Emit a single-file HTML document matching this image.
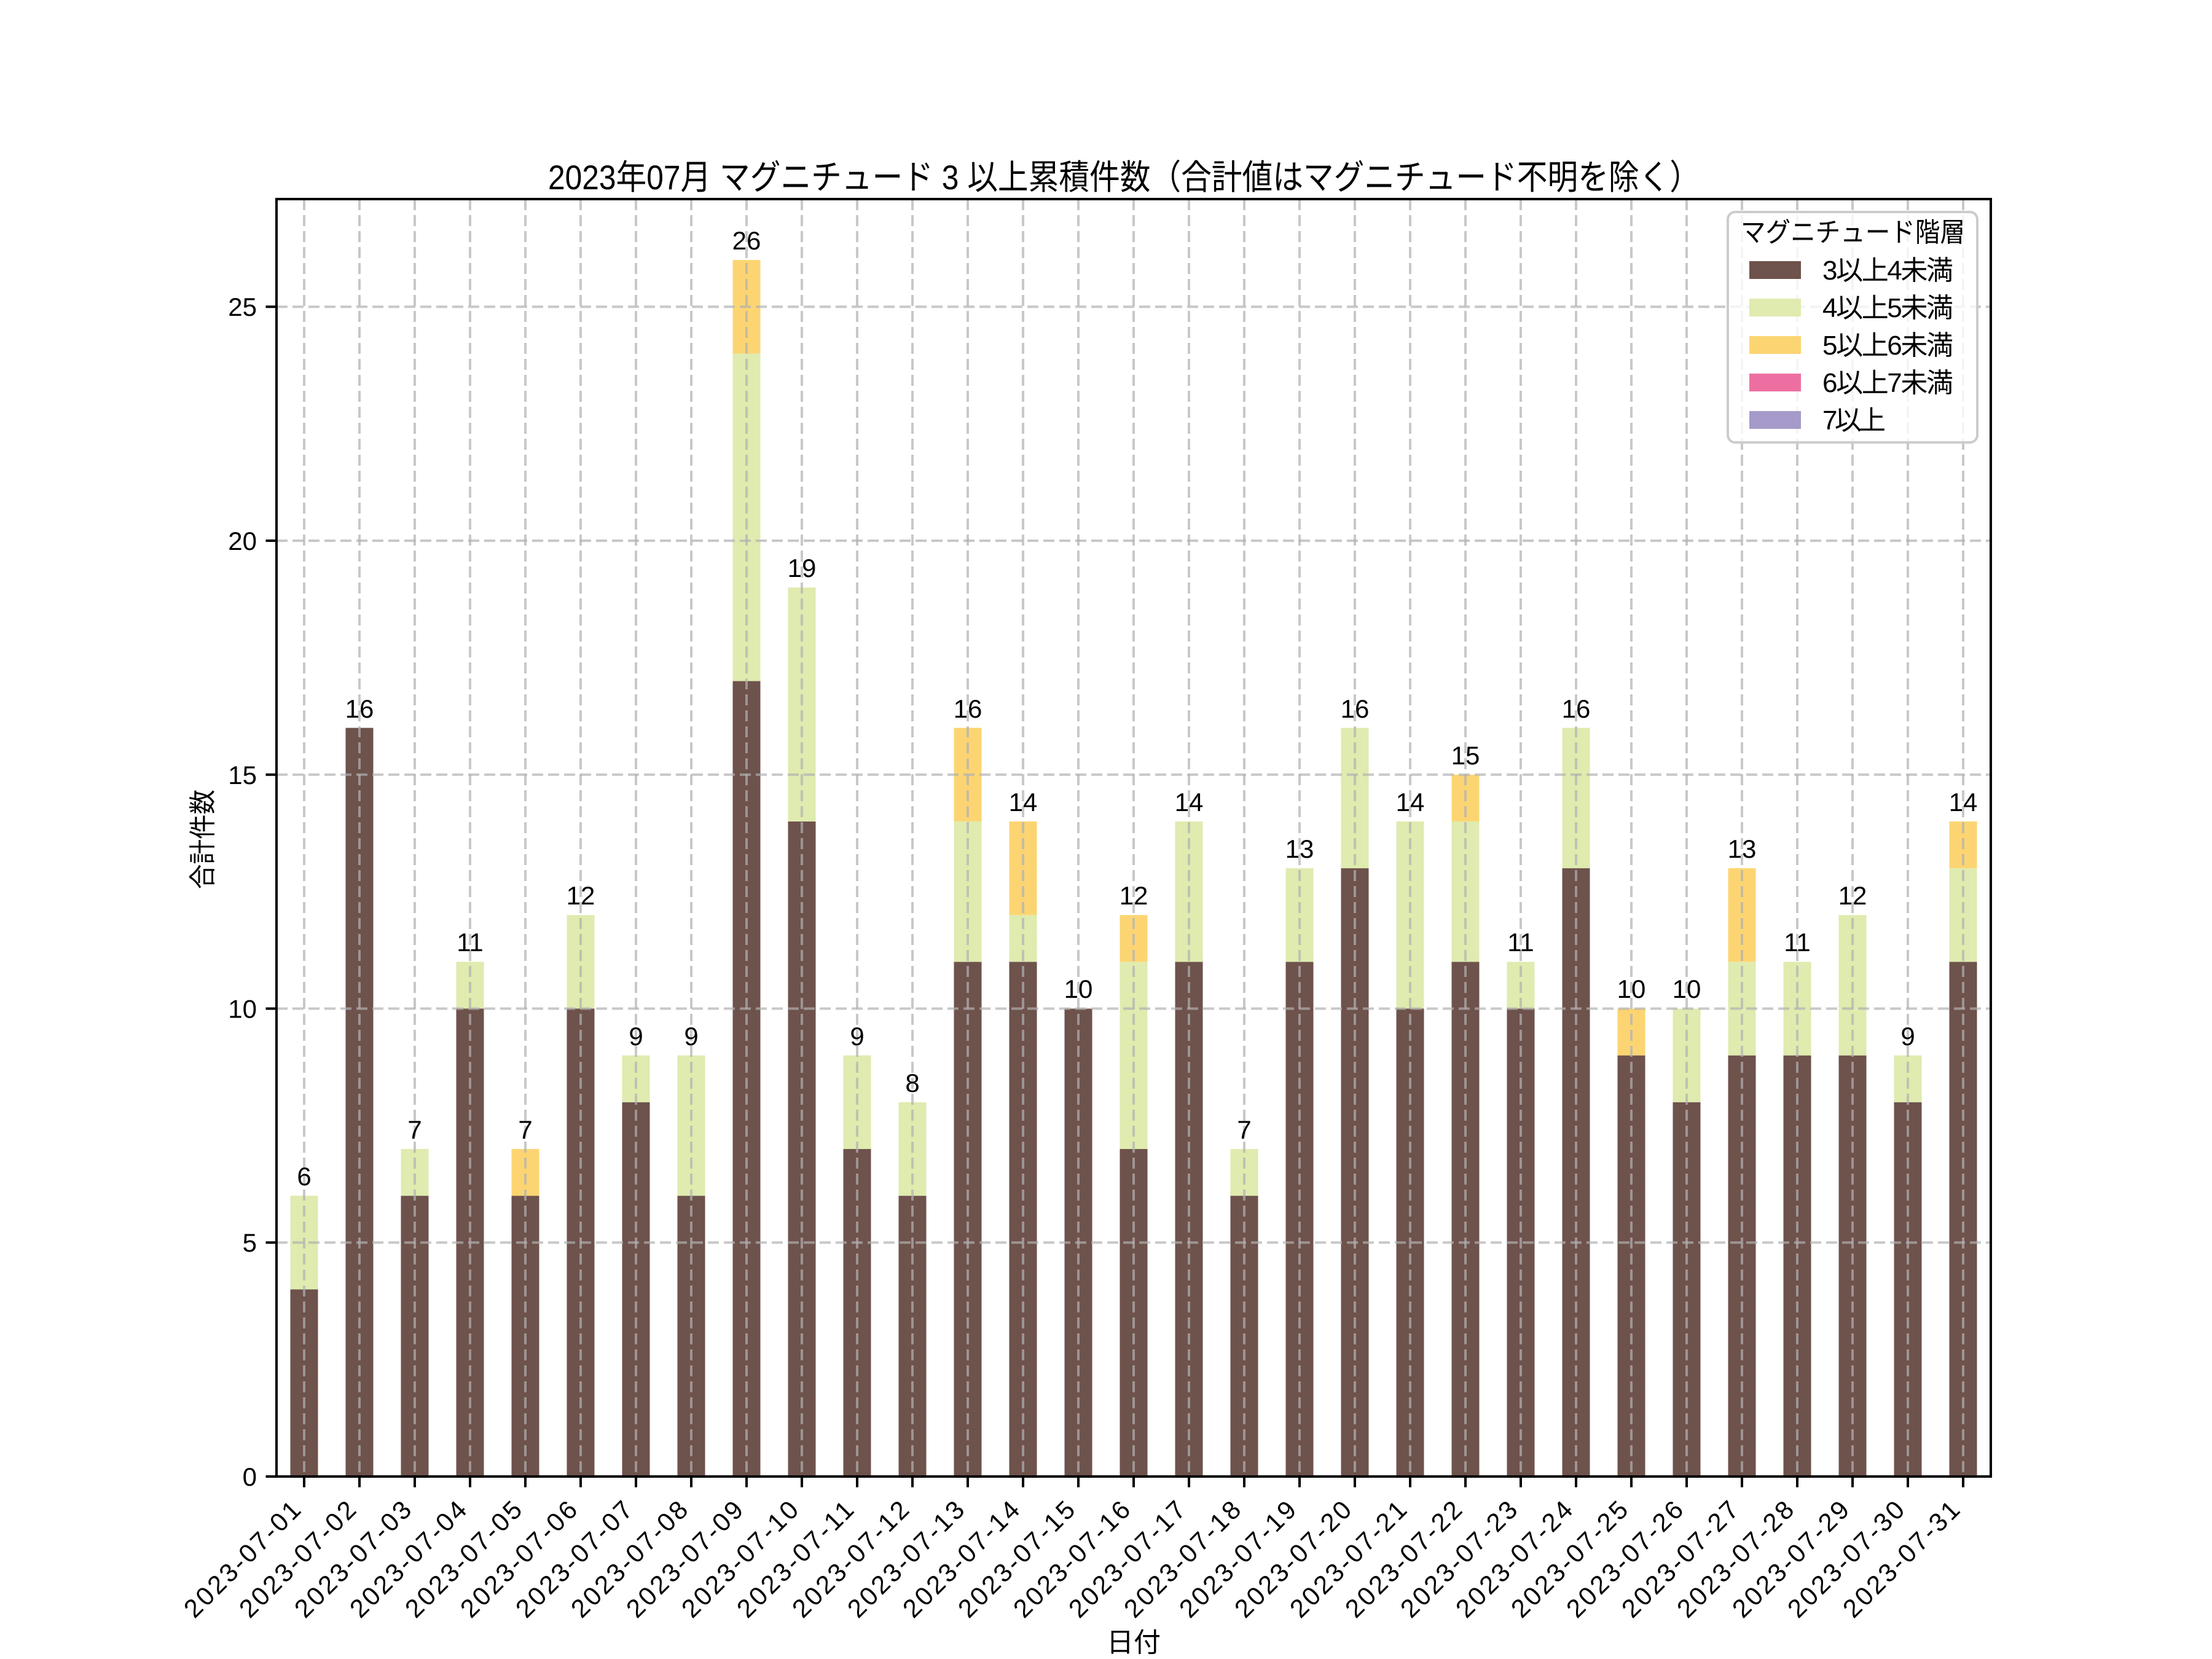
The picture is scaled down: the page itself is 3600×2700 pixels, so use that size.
<!DOCTYPE html>
<html><head><meta charset="utf-8"><style>html,body{margin:0;padding:0;background:#fff}svg{display:block}text{font-family:"Liberation Sans","Noto Sans CJK JP",sans-serif;fill:#000}</style></head>
<body>
<svg width="3600" height="2700" viewBox="0 0 3600 2700" xmlns="http://www.w3.org/2000/svg">
<rect width="3600" height="2700" fill="#fff"/>
<g transform="translate(0,2403) scale(1,-76.15)">
<g fill="#6e524c">
<rect x="472.5" y="0" width="45" height="4"/><rect x="562.5" y="0" width="45" height="16"/><rect x="652.5" y="0" width="45" height="6"/><rect x="742.5" y="0" width="45" height="10"/><rect x="832.5" y="0" width="45" height="6"/><rect x="922.5" y="0" width="45" height="10"/><rect x="1012.5" y="0" width="45" height="8"/><rect x="1102.5" y="0" width="45" height="6"/><rect x="1192.5" y="0" width="45" height="17"/><rect x="1282.5" y="0" width="45" height="14"/><rect x="1372.5" y="0" width="45" height="7"/><rect x="1462.5" y="0" width="45" height="6"/><rect x="1552.5" y="0" width="45" height="11"/><rect x="1642.5" y="0" width="45" height="11"/><rect x="1732.5" y="0" width="45" height="10"/><rect x="1822.5" y="0" width="45" height="7"/><rect x="1912.5" y="0" width="45" height="11"/><rect x="2002.5" y="0" width="45" height="6"/><rect x="2092.5" y="0" width="45" height="11"/><rect x="2182.5" y="0" width="45" height="13"/><rect x="2272.5" y="0" width="45" height="10"/><rect x="2362.5" y="0" width="45" height="11"/><rect x="2452.5" y="0" width="45" height="10"/><rect x="2542.5" y="0" width="45" height="13"/><rect x="2632.5" y="0" width="45" height="9"/><rect x="2722.5" y="0" width="45" height="8"/><rect x="2812.5" y="0" width="45" height="9"/><rect x="2902.5" y="0" width="45" height="9"/><rect x="2992.5" y="0" width="45" height="9"/><rect x="3082.5" y="0" width="45" height="8"/><rect x="3172.5" y="0" width="45" height="11"/>
</g>
<g fill="#dfebaf">
<rect x="472.5" y="4" width="45" height="2"/><rect x="652.5" y="6" width="45" height="1"/><rect x="742.5" y="10" width="45" height="1"/><rect x="922.5" y="10" width="45" height="2"/><rect x="1012.5" y="8" width="45" height="1"/><rect x="1102.5" y="6" width="45" height="3"/><rect x="1192.5" y="17" width="45" height="7"/><rect x="1282.5" y="14" width="45" height="5"/><rect x="1372.5" y="7" width="45" height="2"/><rect x="1462.5" y="6" width="45" height="2"/><rect x="1552.5" y="11" width="45" height="3"/><rect x="1642.5" y="11" width="45" height="1"/><rect x="1822.5" y="7" width="45" height="4"/><rect x="1912.5" y="11" width="45" height="3"/><rect x="2002.5" y="6" width="45" height="1"/><rect x="2092.5" y="11" width="45" height="2"/><rect x="2182.5" y="13" width="45" height="3"/><rect x="2272.5" y="10" width="45" height="4"/><rect x="2362.5" y="11" width="45" height="3"/><rect x="2452.5" y="10" width="45" height="1"/><rect x="2542.5" y="13" width="45" height="3"/><rect x="2722.5" y="8" width="45" height="2"/><rect x="2812.5" y="9" width="45" height="2"/><rect x="2902.5" y="9" width="45" height="2"/><rect x="2992.5" y="9" width="45" height="3"/><rect x="3082.5" y="8" width="45" height="1"/><rect x="3172.5" y="11" width="45" height="2"/>
</g>
<g fill="#fcd572">
<rect x="832.5" y="6" width="45" height="1"/><rect x="1192.5" y="24" width="45" height="2"/><rect x="1552.5" y="14" width="45" height="2"/><rect x="1642.5" y="12" width="45" height="2"/><rect x="1822.5" y="11" width="45" height="1"/><rect x="2362.5" y="14" width="45" height="1"/><rect x="2632.5" y="9" width="45" height="1"/><rect x="2812.5" y="11" width="45" height="2"/><rect x="3172.5" y="13" width="45" height="1"/>
</g>
</g>
<g stroke="#b0b0b0" stroke-opacity="0.7" stroke-width="4" stroke-dasharray="18 8" fill="none">
<path d="M495 324V2403M585 324V2403M675 324V2403M765 324V2403M855 324V2403M945 324V2403M1035 324V2403M1125 324V2403M1215 324V2403M1305 324V2403M1395 324V2403M1485 324V2403M1575 324V2403M1665 324V2403M1755 324V2403M1845 324V2403M1935 324V2403M2025 324V2403M2115 324V2403M2205 324V2403M2295 324V2403M2385 324V2403M2475 324V2403M2565 324V2403M2655 324V2403M2745 324V2403M2835 324V2403M2925 324V2403M3015 324V2403M3105 324V2403M3195 324V2403"/>
<path d="M450 2022.25H3240M450 1641.5H3240M450 1260.75H3240M450 880H3240M450 499.25H3240"/>
</g>
<rect x="450" y="324" width="2790" height="2079" fill="none" stroke="#000" stroke-width="4"/>
<g stroke="#000" stroke-width="4">
<path d="M450 2403h-17.5M450 2022.25h-17.5M450 1641.5h-17.5M450 1260.75h-17.5M450 880h-17.5M450 499.25h-17.5"/>
<path d="M495 2403v17.5M585 2403v17.5M675 2403v17.5M765 2403v17.5M855 2403v17.5M945 2403v17.5M1035 2403v17.5M1125 2403v17.5M1215 2403v17.5M1305 2403v17.5M1395 2403v17.5M1485 2403v17.5M1575 2403v17.5M1665 2403v17.5M1755 2403v17.5M1845 2403v17.5M1935 2403v17.5M2025 2403v17.5M2115 2403v17.5M2205 2403v17.5M2295 2403v17.5M2385 2403v17.5M2475 2403v17.5M2565 2403v17.5M2655 2403v17.5M2745 2403v17.5M2835 2403v17.5M2925 2403v17.5M3015 2403v17.5M3105 2403v17.5M3195 2403v17.5"/>
</g>
<g font-size="42" text-anchor="end">
<text x="418" y="2418">0</text><text x="418" y="2037">5</text><text x="418" y="1656.5">10</text><text x="418" y="1276">15</text><text x="418" y="895">20</text><text x="418" y="514">25</text>
</g>
<g font-size="42" text-anchor="end" lengthAdjust="spacingAndGlyphs">
<text textLength="248" transform="translate(492,2460) rotate(-45)">2023-07-01</text><text textLength="248" transform="translate(582,2460) rotate(-45)">2023-07-02</text><text textLength="248" transform="translate(672,2460) rotate(-45)">2023-07-03</text><text textLength="248" transform="translate(762,2460) rotate(-45)">2023-07-04</text><text textLength="248" transform="translate(852,2460) rotate(-45)">2023-07-05</text><text textLength="248" transform="translate(942,2460) rotate(-45)">2023-07-06</text><text textLength="248" transform="translate(1032,2460) rotate(-45)">2023-07-07</text><text textLength="248" transform="translate(1122,2460) rotate(-45)">2023-07-08</text><text textLength="248" transform="translate(1212,2460) rotate(-45)">2023-07-09</text><text textLength="248" transform="translate(1302,2460) rotate(-45)">2023-07-10</text><text textLength="248" transform="translate(1392,2460) rotate(-45)">2023-07-11</text><text textLength="248" transform="translate(1482,2460) rotate(-45)">2023-07-12</text><text textLength="248" transform="translate(1572,2460) rotate(-45)">2023-07-13</text><text textLength="248" transform="translate(1662,2460) rotate(-45)">2023-07-14</text><text textLength="248" transform="translate(1752,2460) rotate(-45)">2023-07-15</text><text textLength="248" transform="translate(1842,2460) rotate(-45)">2023-07-16</text><text textLength="248" transform="translate(1932,2460) rotate(-45)">2023-07-17</text><text textLength="248" transform="translate(2022,2460) rotate(-45)">2023-07-18</text><text textLength="248" transform="translate(2112,2460) rotate(-45)">2023-07-19</text><text textLength="248" transform="translate(2202,2460) rotate(-45)">2023-07-20</text><text textLength="248" transform="translate(2292,2460) rotate(-45)">2023-07-21</text><text textLength="248" transform="translate(2382,2460) rotate(-45)">2023-07-22</text><text textLength="248" transform="translate(2472,2460) rotate(-45)">2023-07-23</text><text textLength="248" transform="translate(2562,2460) rotate(-45)">2023-07-24</text><text textLength="248" transform="translate(2652,2460) rotate(-45)">2023-07-25</text><text textLength="248" transform="translate(2742,2460) rotate(-45)">2023-07-26</text><text textLength="248" transform="translate(2832,2460) rotate(-45)">2023-07-27</text><text textLength="248" transform="translate(2922,2460) rotate(-45)">2023-07-28</text><text textLength="248" transform="translate(3012,2460) rotate(-45)">2023-07-29</text><text textLength="248" transform="translate(3102,2460) rotate(-45)">2023-07-30</text><text textLength="248" transform="translate(3192,2460) rotate(-45)">2023-07-31</text>
</g>
<g font-size="42" text-anchor="middle">
<text x="495" y="1929">6</text><text x="585" y="1168">16</text><text x="675" y="1853">7</text><text x="765" y="1548">11</text><text x="855" y="1853">7</text><text x="945" y="1472">12</text><text x="1035" y="1701">9</text><text x="1125" y="1701">9</text><text x="1215" y="406">26</text><text x="1305" y="939">19</text><text x="1395" y="1701">9</text><text x="1485" y="1777">8</text><text x="1575" y="1168">16</text><text x="1665" y="1320">14</text><text x="1755" y="1624">10</text><text x="1845" y="1472">12</text><text x="1935" y="1320">14</text><text x="2025" y="1853">7</text><text x="2115" y="1396">13</text><text x="2205" y="1168">16</text><text x="2295" y="1320">14</text><text x="2385" y="1244">15</text><text x="2475" y="1548">11</text><text x="2565" y="1168">16</text><text x="2655" y="1624">10</text><text x="2745" y="1624">10</text><text x="2835" y="1396">13</text><text x="2925" y="1548">11</text><text x="3015" y="1472">12</text><text x="3105" y="1701">9</text><text x="3195" y="1320">14</text>
</g>
<text x="892" y="308" font-size="56" textLength="1875" lengthAdjust="spacingAndGlyphs">2023年07月 マグニチュード 3 以上累積件数（合計値はマグニチュード不明を除く）</text>
<text transform="translate(345,1366) rotate(-90)" font-size="44" text-anchor="middle" textLength="162" lengthAdjust="spacingAndGlyphs">合計件数</text>
<text x="1845" y="2688" font-size="44" text-anchor="middle">日付</text>
<rect x="2812" y="345" width="406" height="375" rx="12" fill="#fff" fill-opacity="0.8" stroke="#cccccc" stroke-width="4"/>
<text x="2833" y="393" font-size="44" textLength="365" lengthAdjust="spacingAndGlyphs">マグニチュード階層</text>
<rect x="2847" y="425" width="84" height="29" fill="#6e524c"/>
<rect x="2847" y="486" width="84" height="29" fill="#dfebaf"/>
<rect x="2847" y="547" width="84" height="29" fill="#fcd572"/>
<rect x="2847" y="608" width="84" height="29" fill="#ed6fa1"/>
<rect x="2847" y="669" width="84" height="29" fill="#a59ac9"/>
<g font-size="44" lengthAdjust="spacingAndGlyphs">
<text x="2966" y="455" textLength="213">3以上4未満</text><text x="2966" y="516" textLength="213">4以上5未満</text><text x="2966" y="577" textLength="213">5以上6未満</text><text x="2966" y="638" textLength="213">6以上7未満</text><text x="2966" y="699" textLength="103">7以上</text>
</g>
</svg>
</body></html>
